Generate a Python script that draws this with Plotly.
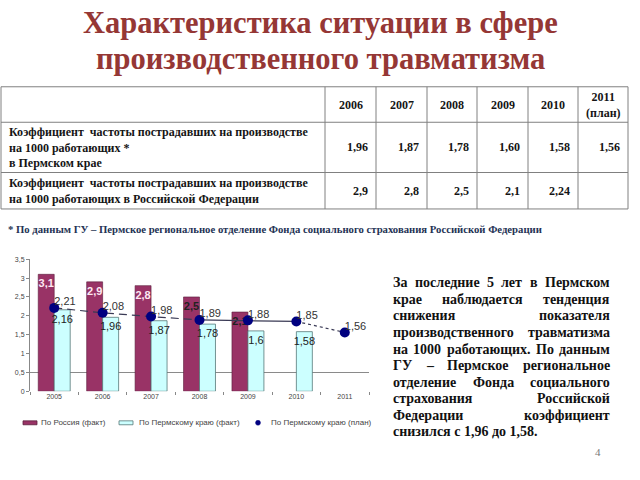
import glob
import struct
import plotly.graph_objects as go

# ---------------- data ----------------
title_lines = ["Характеристика ситуации в сфере", "производственного травматизма"]

table_header = ["", "2006", "2007", "2008", "2009", "2010", "2011<br>(план)"]
row_labels = [
    "Коэффициент  частоты пострадавших на производстве<br>на 1000 работающих *<br>в Пермском крае",
    "Коэффициент  частоты пострадавших на производстве<br>на 1000 работающих в Российской Федерации",
]
perm_table = ["1,96", "1,87", "1,78", "1,60", "1,58", "1,56"]
rf_table = ["2,9", "2,8", "2,5", "2,1", "2,24", ""]

footnote = "* По данным ГУ – Пермское региональное отделение Фонда социального страхования Российской Федерации"

years = ["2005", "2006", "2007", "2008", "2009", "2010", "2011"]
russia_fact = [3.1, 2.9, 2.8, 2.5, 2.1, None, None]
perm_fact = [2.16, 1.96, 1.87, 1.78, 1.6, 1.58, None]
perm_plan = [2.21, 2.08, 1.98, 1.89, 1.88, 1.85, 1.56]

series_names = ["По Россия (факт)", "По Пермскому краю (факт)", "По Пермскому краю (план)"]

paragraph = [
    "За последние 5 лет в Пермском",
    "крае наблюдается тенденция",
    "снижения показателя",
    "производственного травматизма",
    "на 1000 работающих. По данным",
    "ГУ – Пермское региональное",
    "отделение Фонда социального",
    "страхования Российской",
    "Федерации коэффициент",
    "снизился с 1,96 до 1,58.",
]
page_number = "4"

# ---------------- layout constants ----------------
W, H = 640, 480
def px(x):
    return x / W
def py(y):
    return 1 - y / H
def fmt(v):
    return "" if v is None else f"{v:g}".replace(".", ",")

MAROON = "#993366"
CYAN = "#CCFFFF"
NAVY = "#000080"
SERIF = "Liberation Serif"
SANS = "Liberation Sans"
GRID = "#808080"

col_edges = [1, 325, 376, 427, 477, 528, 578, 628]
row_edges = [84, 120, 171, 208]

# ---------------- glyph width measurement (for justified text) ----------------
def make_width_fn():
    paths = glob.glob("/usr/share/fonts/**/LiberationSerif-Bold.ttf", recursive=True)
    if not paths:
        return None
    data = open(paths[0], "rb").read()
    ntab = struct.unpack(">H", data[4:6])[0]
    tabs = {}
    for i in range(ntab):
        tag, _, off, ln = struct.unpack(">4sIII", data[12 + 16 * i:28 + 16 * i])
        tabs[tag.decode("latin1")] = off
    upem = struct.unpack(">H", data[tabs["head"] + 18:tabs["head"] + 20])[0]
    nhm = struct.unpack(">H", data[tabs["hhea"] + 34:tabs["hhea"] + 36])[0]
    hm = tabs["hmtx"]
    co = tabs["cmap"]
    nsub = struct.unpack(">H", data[co + 2:co + 4])[0]
    seginfo = None
    for i in range(nsub):
        pid, eid, so = struct.unpack(">HHI", data[co + 4 + 8 * i:co + 12 + 8 * i])
        st = co + so
        if struct.unpack(">H", data[st:st + 2])[0] == 4 and pid in (0, 3):
            s2 = struct.unpack(">H", data[st + 6:st + 8])[0]
            n = s2 // 2
            ends = struct.unpack(">%dH" % n, data[st + 14:st + 14 + s2])
            starts = struct.unpack(">%dH" % n, data[st + 16 + s2:st + 16 + 2 * s2])
            deltas = struct.unpack(">%dh" % n, data[st + 16 + 2 * s2:st + 16 + 3 * s2])
            rpos = st + 16 + 3 * s2
            roffs = struct.unpack(">%dH" % n, data[rpos:rpos + s2])
            seginfo = (n, ends, starts, deltas, rpos, roffs)
            break
    if seginfo is None:
        return None
    n, ends, starts, deltas, rpos, roffs = seginfo
    def glyph(c):
        for k in range(n):
            if ends[k] >= c:
                if starts[k] > c:
                    return 0
                if roffs[k] == 0:
                    return (c + deltas[k]) & 0xFFFF
                addr = rpos + 2 * k + roffs[k] + 2 * (c - starts[k])
                g = struct.unpack(">H", data[addr:addr + 2])[0]
                return (g + deltas[k]) & 0xFFFF if g else 0
        return 0
    def width(ch):
        g = glyph(ord(ch))
        g = min(g, nhm - 1)
        return struct.unpack(">H", data[hm + 4 * g:hm + 4 * g + 2])[0] / upem
    return width

_wf = None
try:
    _wf = make_width_fn()
except Exception:
    _wf = None
def text_em(s):
    if _wf:
        return sum(_wf(ch) for ch in s)
    return sum(0.72 if ch.isupper() else (0.25 if ch in " ,." else 0.53) for ch in s)

fig = go.Figure()

# ---------------- chart ----------------
fig.add_trace(go.Bar(
    x=years, y=russia_fact, name=series_names[0], showlegend=False,
    marker=dict(color=MAROON, line=dict(color="#5a1f3c", width=0.6)),
    text=[fmt(v) for v in russia_fact], textposition="inside", insidetextanchor="end",
    constraintext="none", textangle=0,
    textfont=dict(family=SANS, size=11, weight="bold",
                  color=["#fde8f2"] * 3 + ["#222"] * 4),
))
fig.add_trace(go.Bar(
    x=years, y=perm_fact, name=series_names[1], showlegend=False,
    marker=dict(color=CYAN, line=dict(color="#557777", width=0.8)),
    text=[fmt(v) for v in perm_fact], textposition="inside", insidetextanchor="end",
    constraintext="none", textangle=0,
    textfont=dict(family=SANS, size=11, color="#222"),
))
seg_style = [(0, 4, "8px,5px"), (3, 6, "solid"), (5, 7, "dot")]
for a, b, d in seg_style:
    fig.add_trace(go.Scatter(
        x=years[a:b], y=perm_plan[a:b], mode="lines",
        line=dict(color="#3a3a55", width=1.2, dash=d),
        showlegend=False, hoverinfo="skip",
    ))
fig.add_trace(go.Scatter(
    x=years, y=perm_plan, mode="markers", name=series_names[2], showlegend=False,
    marker=dict(color=NAVY, size=10),
))
fig.add_trace(go.Scatter(
    x=years, y=perm_plan, mode="text", text=[fmt(v) for v in perm_plan],
    textposition="top right", textfont=dict(family=SANS, size=11, color="#333"),
    showlegend=False, hoverinfo="skip",
))

fig.update_layout(
    width=W, height=H,
    margin=dict(l=0, r=0, t=0, b=0),
    paper_bgcolor="white", plot_bgcolor="white",
    separators=", ",
    barmode="group", bargap=0.34, bargroupgap=0,
    showlegend=False,
    xaxis=dict(domain=[px(30), px(369)], type="category", range=[-0.5, 6.5],
               showgrid=False, showline=False, zeroline=False,
               ticks="outside", tickson="boundaries", ticklen=3, tickcolor="#888",
               tickfont=dict(family=SANS, size=7, color="#444")),
    yaxis=dict(domain=[py(393), py(259)], range=[0, 3.5], dtick=0.5,
               showgrid=False, zeroline=False, showline=True, linecolor="#888", linewidth=1,
               ticks="outside", ticklen=3, tickcolor="#888",
               tickfont=dict(family=SANS, size=7, color="#444"),
               minor=dict(tickvals=[0.5, 3.5], showgrid=True, gridcolor="#8a8a8a", gridwidth=1)),
)

shapes = []
ann = []

# ---------------- legend (drawn below the chart) ----------------
LEG_Y = 425
leg_items = [(23, 39, "rect", MAROON, "#5a1f3c"),
             (119, 137, "rect", CYAN, "#557777"),
             (258, 269, "dot", NAVY, NAVY)]
for (sx, tx, kind, fill, edge), name in zip(leg_items, series_names):
    if kind == "rect":
        shapes.append(dict(type="rect", xref="paper", yref="paper",
                           x0=px(sx), x1=px(sx + 14), y0=py(LEG_Y - 2), y1=py(LEG_Y + 2),
                           fillcolor=fill, line=dict(color=edge, width=0.8)))
    else:
        shapes.append(dict(type="circle", xref="paper", yref="paper",
                           x0=px(sx - 2.5), x1=px(sx + 2.5), y0=py(LEG_Y - 2.5), y1=py(LEG_Y + 2.5),
                           fillcolor=fill, line=dict(color=edge, width=0.5)))
    ann.append(dict(x=px(tx), y=py(LEG_Y), xref="paper", yref="paper", text=name,
                    showarrow=False, xanchor="left", yanchor="middle",
                    font=dict(family=SANS, size=8, color="#444")))

# ---------------- table (grid + text) ----------------
for yv in row_edges:
    shapes.append(dict(type="line", xref="paper", yref="paper",
                       x0=px(col_edges[0]), x1=px(col_edges[-1]), y0=py(yv), y1=py(yv),
                       line=dict(color=GRID, width=1)))
for xv in col_edges:
    shapes.append(dict(type="line", xref="paper", yref="paper",
                       x0=px(xv), x1=px(xv), y0=py(row_edges[0]), y1=py(row_edges[-1]),
                       line=dict(color=GRID, width=1)))

TFONT = dict(family=SERIF, size=12, color="#151515")
def cell_text(txt, c, r, align):
    yc = (row_edges[r] + row_edges[r + 1]) / 2
    if align == "left":
        x, xa = col_edges[c] + 6, "left"
    elif align == "right":
        x, xa = col_edges[c + 1] - 6, "right"
    else:
        x, xa = (col_edges[c] + col_edges[c + 1]) / 2, "center"
    return dict(x=px(x), y=py(yc), xref="paper", yref="paper", text="<b>%s</b>" % txt,
                showarrow=False, xanchor=xa, yanchor="middle", align=align, font=TFONT)

for c, h in enumerate(table_header):
    if h:
        ann.append(cell_text(h, c, 0, "center"))
for r, lab in enumerate(row_labels):
    ann.append(cell_text(lab, 0, r + 1, "left"))
for c, v in enumerate(perm_table):
    ann.append(cell_text(v, c + 1, 1, "right"))
for c, v in enumerate(rf_table):
    if v:
        ann.append(cell_text(v, c + 1, 2, "right"))

# ---------------- other texts ----------------
for i, t in enumerate(title_lines):
    ann.append(dict(x=0.5, y=py(19 + 37 * i), xref="paper", yref="paper", text="<b>%s</b>" % t,
                    showarrow=False, xanchor="center", yanchor="middle",
                    font=dict(family=SERIF, size=30.5, color="#953735")))
ann.append(dict(x=px(6), y=py(228), xref="paper", yref="paper", text="<b>%s</b>" % footnote,
                showarrow=False, xanchor="left", yanchor="middle",
                font=dict(family=SERIF, size=10.7, color="#243254")))

# justified paragraph
L, R = 393, 610
nat = max(text_em(l) for l in paragraph[:-1])
PFS = min(14.0, (R - L - 6) / nat)
for i, line in enumerate(paragraph):
    yy = py(283 + 16.8 * i)
    words = line.split()
    pfont = dict(family=SERIF, size=PFS, color="#111")
    if i == len(paragraph) - 1 or len(words) == 1:
        ann.append(dict(x=px(L), y=yy, xref="paper", yref="paper", text="<b>%s</b>" % line,
                        showarrow=False, xanchor="left", yanchor="middle", font=pfont,
                        borderpad=0, borderwidth=0))
        continue
    widths = [text_em(w) * PFS for w in words]
    gap = (R - L - sum(widths)) / (len(words) - 1)
    xpos = L
    for j, w in enumerate(words):
        last = j == len(words) - 1
        ann.append(dict(x=px(R if last else xpos), y=yy, xref="paper", yref="paper",
                        text="<b>%s</b>" % w, showarrow=False,
                        xanchor="right" if last else "left", yanchor="middle", font=pfont,
                        borderpad=0, borderwidth=0))
        xpos += widths[j] + gap

ann.append(dict(x=px(598), y=py(455), xref="paper", yref="paper", text=page_number,
                showarrow=False, xanchor="center", yanchor="middle",
                font=dict(family=SERIF, size=11, color="#777")))
fig.update_layout(annotations=ann, shapes=shapes)

fig.write_html("out.html", config={"displayModeBar": False},
               post_script="document.body.style.margin='0px';")
